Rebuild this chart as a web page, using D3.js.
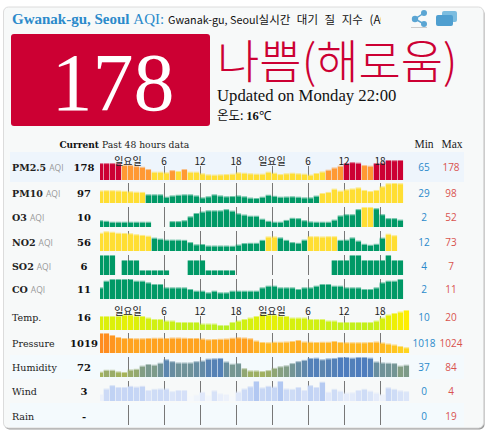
<!DOCTYPE html>
<html>
<head>
<meta charset="utf-8">
<script src="https://cdn.jsdelivr.net/npm/d3@7"></script>
<style>
html, body { margin:0; padding:0; background:#fff; }
svg { display:block; }
text { font-family:"Liberation Serif", serif; }
.cjk { font-family:"Noto Sans CJK KR", sans-serif; }
.lab { font-family:"DejaVu Serif", serif; }
.sans { font-family:"Open Sans", sans-serif; }
</style>
</head>
<body>
<div id="chart"></div>
<script>
// values, one slot per hour (null = no data)
var pm25 = [155,155,155,152,140,140,132,127,110,90,90,85,102,95,110,90,90,78,70,68,70,72,75,85,82,78,75,75,90,82,72,78,82,78,75,68,80,92,105,122,135,155,162,158,140,135,155,158,178,177,178,null];
var pm10 = [64,65,65,64,62,60,58,57,46,46,46,35,41,44,46,46,41,32,37,46,41,37,38,41,37,31,29,35,44,39,35,36,37,35,32,32,40,52,57,72,63,69,73,78,66,61,66,83,97,98,97,null];
var o3 = [8,6,3,3,3,3,3,3,3,null,null,null,5,5,8,21,32,37,41,41,41,45,40,31,27,23,23,13,6,3,3,9,16,15,8,4,3,3,3,10,24,28,28,45,52,52,48,28,15,15,10,null];
var no2 = [66,72,70,66,65,64,60,57,54,46,42,38,38,38,37,28,19,20,14,14,14,14,13,18,24,25,25,37,51,51,47,37,28,25,38,52,52,51,52,52,37,38,47,34,21,17,21,46,62,56,null,null];
var so2 = [7,7,7,null,6,6,6,4,4,4,4,4,null,null,null,6,6,6,4,4,4,4,4,null,null,null,null,null,null,null,null,null,null,null,null,null,null,null,null,6,6,6,7,7,6,6,6,6,7,6,6,null];
var co = [6,10,11,11,11,11,10,10,9,8,8,6,6,6,6,5,4,4,3,4,3,3,4,4,4,4,4,6,7,7,6,6,6,5,6,6,7,8,8,7,7,6,6,6,5,5,6,9,10,10,11,null];
var temp = [16,16,16,16,17,17,16,16,15,14,14,13,13,12,12,12,12,11,11,11,10,10,12,13,14,15,16,17,17,17,16,16,15,15,15,14,14,14,13,13,12,12,12,12,12,12,13,15,17,18,19,20];
var pressure = [1024,1024,1023.2,1022.4,1022,1022,1021.9,1021.9,1022,1022.1,1022.1,1022,1022.2,1022.2,1022.1,1022,1022,1021.8,1021.5,1021.6,1021.7,1021.8,1022.1,1022.3,1022.2,1021.9,1021,1020.4,1020.3,1020.5,1020.5,1020.6,1020.8,1021.2,1020.6,1020.5,1020.4,1020.5,1020.5,1020.8,1020.4,1020.3,1020.3,1020.3,1020.3,1020.4,1020.6,1020.2,1019.8,1019.4,1018.8,1018.3];
var humidity = [38,44,44,39,37,45,47,57,62,60,66,77,71,67,67,67,71,73,79,80,81,70,63,65,49,42,42,40,43,50,55,58,65,71,75,81,82,77,80,81,84,84,82,84,84,82,70,67,66,65,57,60];
var wind = [0.5,2,2.9,2.4,2.4,2.7,2.5,2.7,1.6,1.9,2,2,1.3,1.6,1.6,0,0.3,1.1,0.2,1.5,0.7,0.5,0,1.2,2,2.6,4,2.3,2.7,2.5,4,2,1.9,2.4,1.6,2.9,2.4,3.8,1.1,1.9,1.4,0.9,1,1.6,1.9,1.4,0.9,0.5,2.3,1.9,1.5,1.3];
var rain = [];

var names = ["PM2.5","PM10","O3","NO2","SO2","CO","Temp.","Pressure","Humidity","Wind","Rain"];
var hasAqi = [true,true,true,true,true,true,false,false,false,false,false];
var current = ["178","97","10","56","6","11","16","1019","72","3","-"];
var mins = [65,29,2,12,4,2,10,1018,37,0,0];
var maxs = [178,98,52,73,7,11,20,1024,84,4,19];
var hourTicks = [5,11,17,23,29,35,41,47];
var hourLabels = ["일요일","6","12","18","일요일","6","12","18"];
var series = [pm25,pm10,o3,no2,so2,co,temp,pressure,humidity,wind,rain];

var width = 490, height = 435;
var rowBottom = [180,203,227,251,275,299,330,353,377,401,425];
var rowBaseline = [171,197,221,246,270,293,321,347,371,395,420];

function aqiColor(v) {
    if (v <= 50) return "#009966";
    if (v <= 100) return "#ffde33";
    if (v <= 150) return "#ff9933";
    return "#cc0033";
}
var tempColor = d3.scaleLinear().domain([10,16,20]).range(["#b8f020","#dcf00a","#ffee00"]);
var pressColor = d3.scaleLinear().domain([1018,1021,1024]).range(["#ffd91e","#ffae20","#ff8c1f"]);
var humColor = d3.scaleLinear().domain([37,60,84]).range(["#a6b45a","#7d9b8a","#4e7dbe"]);
var windColor = d3.scaleLinear().domain([0,1,2,4]).range(["#f5f8fc","#e2eafa","#ccdaf6","#b2c8f2"]);
var colorFns = [aqiColor,aqiColor,aqiColor,aqiColor,aqiColor,aqiColor,tempColor,pressColor,humColor,windColor,windColor];

var svg = d3.select("#chart").append("svg")
    .attr("width", width)
    .attr("height", height);

var defs = svg.append("defs");
defs.append("clipPath").attr("id","plotClip").append("rect")
    .attr("x",100).attr("y",130).attr("width",330).attr("height",300);
defs.append("clipPath").attr("id","titleClip").append("rect")
    .attr("x",160).attr("y",8).attr("width",221).attr("height",24);

// card
svg.append("rect").attr("x",4.5).attr("y",8.5).attr("width",480).attr("height",421)
    .attr("rx",5).attr("fill","#999");
svg.append("rect").attr("x",3.5).attr("y",7).attr("width",480).attr("height",421)
    .attr("rx",5).attr("fill","#f7f9f9").attr("stroke","#dcdcdc");

// title
var title = svg.append("text").attr("x",12).attr("y",24)
    .attr("font-size",15).attr("fill","#2b8acb");
title.append("tspan").attr("font-weight","bold").text("Gwanak-gu, Seoul ");
title.append("tspan").text("AQI:");
var subtitle = svg.append("text").attr("class","cjk").attr("x",168).attr("y",24)
    .attr("font-size",11.5).attr("fill","#111").attr("clip-path","url(#titleClip)");
subtitle.append("tspan").attr("font-size",10.8).text("Gwanak-gu, Seoul");
subtitle.append("tspan").attr("word-spacing",4).text("실시간 대기 질 지수 (AQI)");

// share icon
var share = svg.append("g").attr("fill","#5aa5d3");
share.selectAll("circle").data([[424,13,3],[415,19,3.2],[424,24,3]]).enter().append("circle")
    .attr("cx",function(d){ return d[0]; }).attr("cy",function(d){ return d[1]; }).attr("r",function(d){ return d[2]; });
share.append("path").attr("d","M424 13L415 19L424 24").attr("fill","none").attr("stroke","#5aa5d3").attr("stroke-width",1.5);
svg.append("rect").attr("x",411).attr("y",27).attr("width",16).attr("height",1).attr("fill","#ccc");
// chat icon
svg.append("rect").attr("x",442).attr("y",11).attr("width",15).attr("height",11).attr("rx",2).attr("fill","#7cbde0");
svg.append("rect").attr("x",436).attr("y",15).attr("width",17).attr("height",11).attr("rx",2).attr("fill","#4f9fd0");

// big number box
svg.append("rect").attr("x",11).attr("y",34).attr("width",199).attr("height",92)
    .attr("rx",3).attr("fill","#cc0033");
svg.append("text").attr("x",113).attr("y",110).attr("text-anchor","middle")
    .attr("font-size",82).attr("fill","#fff").text("178");
svg.append("text").attr("class","cjk").attr("x",217).attr("y",78)
    .attr("font-size",46).attr("font-weight",300).attr("fill","#cc0033").text("나쁨(해로움)");
svg.append("text").attr("x",217).attr("y",101)
    .attr("font-size",16.7).attr("fill","#111").text("Updated on Monday 22:00");
var tempLine = svg.append("text").attr("x",217).attr("y",120).attr("font-size",12.5).attr("fill","#111");
tempLine.append("tspan").attr("class","cjk").text("온도: ");
tempLine.append("tspan").attr("font-weight","bold").text("16");
tempLine.append("tspan").text("℃");

// table header
svg.append("text").attr("class","lab").attr("x",99).attr("y",148).attr("text-anchor","end")
    .attr("font-size",9).attr("font-weight","bold").attr("fill","#111").text("Current");
svg.append("text").attr("class","lab").attr("x",102).attr("y",148)
    .attr("font-size",9.2).attr("fill","#222").text("Past 48 hours data");
svg.append("text").attr("x",424).attr("y",148).attr("text-anchor","middle")
    .attr("font-size",11.5).attr("fill","#222").text("Min");
svg.append("text").attr("x",452).attr("y",148).attr("text-anchor","middle")
    .attr("font-size",11.5).attr("fill","#222").text("Max");

// tinted rows
var tinted = [[0,"#eef5fc",30],[8,"#f4fafd",24],[10,"#f4fafd",24]];
svg.selectAll("rect.tint").data(tinted).enter().append("rect")
    .attr("class","tint")
    .attr("x",10).attr("width",454)
    .attr("y",function(d){ return rowBottom[d[0]] + 2 - d[2]; })
    .attr("height",function(d){ return d[2]; })
    .attr("fill",function(d){ return d[1]; });

var x = d3.scaleLinear().domain([0,52]).range([97.67,409.67]);

names.forEach(function(name, r) {
    var row = svg.append("g").attr("class","row");
    var bottom = rowBottom[r];
    var h = d3.scaleLinear().domain([mins[r],maxs[r]]).range([5,20]);
    var textY = rowBaseline[r];

    // hour ticks go behind the bars
    var isTimeRow = (r === 0 || r === 6);
    row.selectAll("line").data(hourTicks).enter().append("line")
        .attr("x1",function(d){ return x(d) + 0.83; })
        .attr("x2",function(d){ return x(d) + 0.83; })
        .attr("y1",bottom - (isTimeRow ? 14 : 20))
        .attr("y2",bottom)
        .attr("stroke","#777").attr("stroke-width",1);

    var pts = series[r].map(function(v,i){ return {i:i, v:v}; })
        .filter(function(d){ return d.v !== null; });
    var bars = row.append("g").attr("clip-path","url(#plotClip)");
    bars.selectAll("rect.bar").data(pts).enter().append("rect")
        .attr("class","bar")
        .attr("x",function(d){ return x(d.i); })
        .attr("width",5.4)
        .attr("y",function(d){ return bottom - h(d.v) + 1; })
        .attr("height",function(d){ return h(d.v) - 1; })
        .attr("fill",function(d){ return colorFns[r](d.v); });
    // soft cap on top of each bar
    bars.selectAll("rect.cap").data(pts).enter().append("rect")
        .attr("class","cap")
        .attr("x",function(d){ return x(d.i); })
        .attr("width",5.4)
        .attr("y",function(d){ return bottom - h(d.v); })
        .attr("height",1)
        .attr("fill",function(d){ return colorFns[r](d.v); })
        .attr("opacity",0.55);

    if (isTimeRow) {
        row.selectAll("text.hour").data(hourTicks).enter().append("text")
            .attr("class","hour cjk")
            .attr("x",function(d){ return x(d) + 0.3; })
            .attr("y",bottom - 15)
            .attr("text-anchor","middle")
            .attr("font-size",10)
            .attr("fill","#222")
            .text(function(d,i){ return hourLabels[i]; });
    }

    var label = row.append("text").attr("class","lab").attr("x",12).attr("y",textY)
        .attr("font-size",9.5).attr("fill","#222").attr("font-weight",hasAqi[r] ? "bold" : "normal");
    label.append("tspan").text(name);
    if (hasAqi[r]) {
        label.append("tspan").attr("class","sans").attr("dx",3).attr("font-weight","normal")
            .attr("font-size",8.5).attr("fill","#999").text("AQI");
    }

    row.append("text").attr("class","lab").attr("x",84).attr("y",textY)
        .attr("text-anchor","middle").attr("font-size",10).attr("font-weight","bold")
        .attr("fill","#111").text(current[r]);
    row.append("text").attr("class","sans").attr("x",424).attr("y",textY)
        .attr("text-anchor","middle").attr("font-size",10).attr("fill","#2b8acb").text(mins[r]);
    row.append("text").attr("class","sans").attr("x",451).attr("y",textY)
        .attr("text-anchor","middle").attr("font-size",10).attr("fill","#d9534f").text(maxs[r]);
});
</script>
</body>
</html>
